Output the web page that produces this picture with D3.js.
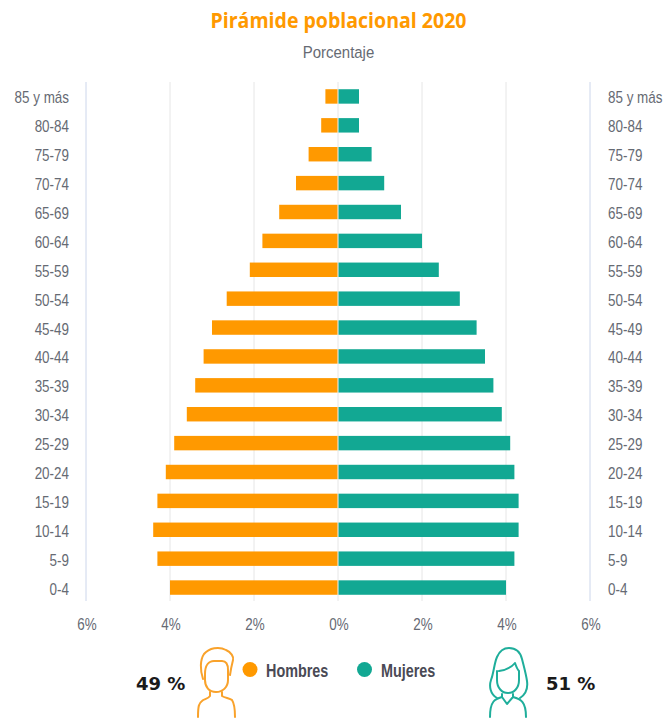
<!DOCTYPE html>
<html>
<head>
<meta charset="utf-8">
<script src="https://cdnjs.cloudflare.com/ajax/libs/d3/7.8.5/d3.min.js"></script>
<style>
html,body{margin:0;padding:0;background:#fff;}
svg{display:block;}
text{font-family:"Liberation Sans",sans-serif;}
</style>
</head>
<body>
<script>
var grupos = ["85 y más","80-84","75-79","70-74","65-69","60-64","55-59","50-54","45-49","40-44","35-39","30-34","25-29","20-24","15-19","10-14","5-9","0-4"];
var hombres = [0.3,0.4,0.7,1.0,1.4,1.8,2.1,2.65,3.0,3.2,3.4,3.6,3.9,4.1,4.3,4.4,4.3,4.0];
var mujeres = [0.5,0.5,0.8,1.1,1.5,2.0,2.4,2.9,3.3,3.5,3.7,3.9,4.1,4.2,4.3,4.3,4.2,4.0];
var ticks = [-6,-4,-2,0,2,4,6];

var naranja = "#ff9900", verde = "#12a893", gris = "#666a73";

var svg = d3.select("body").append("svg").attr("width",667).attr("height",719);

var x = d3.scaleLinear().domain([-6,6]).range([86,590]);
var y = d3.scaleBand().domain(grupos).range([82,602]).paddingInner(0.5).paddingOuter(0.25);

// no hay fuente estrecha instalada: se comprime el texto en horizontal
function narrowAt(s,fx,fy,k){
    s.attr("transform",(d,i)=>"translate("+fx(d,i)+","+fy(d,i)+") scale("+k+",1)");
}

// titulos
svg.append("text").attr("x",338.5).attr("y",28).attr("text-anchor","middle")
    .style("font-family","'Open Sans',sans-serif").style("font-weight","700").style("font-size","21px")
    .attr("textLength",256).attr("lengthAdjust","spacingAndGlyphs")
    .style("fill",naranja).text("Pirámide poblacional 2020");
svg.append("text").attr("text-anchor","middle")
    .style("font-size","17px").style("fill",gris).text("Porcentaje")
    .call(narrowAt,()=>338.5,()=>58,0.88);

// rejilla
svg.append("g").selectAll("line").data(ticks).enter().append("line")
    .attr("x1",d=>x(d)).attr("x2",d=>x(d)).attr("y1",82).attr("y2",601)
    .style("stroke",d=>Math.abs(d)==6 ? "#ccd6eb" : "#e6e6e6").style("stroke-width",1);

// barras
svg.append("g").selectAll("rect").data(hombres).enter().append("rect")
    .attr("x",d=>x(-d)).attr("y",(d,i)=>y(grupos[i]))
    .attr("width",d=>x(0)-x(-d)-0.5).attr("height",y.bandwidth())
    .style("fill",naranja);
svg.append("g").selectAll("rect").data(mujeres).enter().append("rect")
    .attr("x",x(0)+0.5).attr("y",(d,i)=>y(grupos[i]))
    .attr("width",d=>x(d)-x(0)-0.5).attr("height",y.bandwidth())
    .style("fill",verde);

// etiquetas de edad
var estiloEje = function(s){ s.style("font-size","16px").style("fill",gris); };
svg.append("g").selectAll("text").data(grupos).enter().append("text")
    .attr("text-anchor","end").text(d=>d).call(estiloEje)
    .call(narrowAt,()=>69,d=>y(d)+y.bandwidth()/2+7,0.84);
svg.append("g").selectAll("text").data(grupos).enter().append("text")
    .text(d=>d).call(estiloEje)
    .call(narrowAt,()=>608,d=>y(d)+y.bandwidth()/2+7,0.84);

// eje x
svg.append("g").selectAll("text").data(ticks).enter().append("text")
    .attr("text-anchor","middle").text(d=>Math.abs(d)+"%").call(estiloEje)
    .call(narrowAt,d=>x(d)+1,()=>630,0.84);

// leyenda
var estiloLeyenda = function(s){ s.style("font-size","18px").style("font-weight","700").style("fill","#4a4a55"); };
svg.append("circle").attr("cx",250).attr("cy",669.5).attr("r",7.5).style("fill",naranja);
svg.append("text").text("Hombres").call(estiloLeyenda).call(narrowAt,()=>266,()=>677,0.8);
svg.append("circle").attr("cx",364.5).attr("cy",669.5).attr("r",7.5).style("fill",verde);
svg.append("text").text("Mujeres").call(estiloLeyenda).call(narrowAt,()=>381,()=>677,0.8);

// porcentajes totales
svg.append("text").attr("x",136).attr("y",690).text("49 %")
    .style("font-family","'DejaVu Sans',sans-serif").style("font-weight","700").style("font-size","18px").style("fill","#1a1a1a");
svg.append("text").attr("x",546).attr("y",690).text("51 %")
    .style("font-family","'DejaVu Sans',sans-serif").style("font-weight","700").style("font-size","18px").style("fill","#1a1a1a");

// iconos
var hombre = svg.append("g").style("fill","none").style("stroke","#f9a22b").style("stroke-width",2).style("stroke-linecap","round").style("stroke-linejoin","round");
hombre.append("path").attr("d","M203 679 C200 670 200 660 204 654 C209 648 219 646 226 650 C231 652 234 657 233 660 C232 664 231 668 230 675");
hombre.append("path").attr("d","M205 674 C205 665 209 661 214 661 L222 661 C226 661 228 664 228 670 L228 680 C228 687 223 692 216 692 C209 692 205 687 205 680 Z");
hombre.append("path").attr("d","M210 692 L210 696 C208 699 204 699 202 701 C199 703 198 706 198 717");
hombre.append("path").attr("d","M222 692 L222 696 C225 698 230 698 232 700 C234 703 235 708 235 717");

var mujer = svg.append("g").style("fill","none").style("stroke","#1fae9b").style("stroke-width",2).style("stroke-linecap","round").style("stroke-linejoin","round");
mujer.append("path").attr("d","M497 698 C490 694 489 686 491 680 C494 672 494 664 497 657 C500 650 505 648 509 648 C515 648 520 651 522 659 C524 667 526 674 527 681 C528 688 526 694 520 698");
mujer.append("path").attr("d","M497 671 L497 680 C497 688 502 693 508 693 C514 693 519 688 519 680 L519 671 C517 669 516 666 515 663 C511 668 506 670 499 671");
mujer.append("path").attr("d","M502 694 L502 697 L507 704 L513 697 L513 694");
mujer.append("path").attr("d","M502 697 C495 699 490 701 490 717");
mujer.append("path").attr("d","M513 697 C521 699 526 702 526 717");
</script>
</body>
</html>
